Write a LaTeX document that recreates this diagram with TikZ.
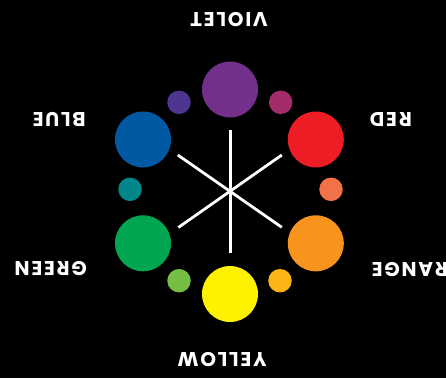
\documentclass[tikz,border=0pt]{standalone}
\usepackage{fontspec}
\newfontfamily\labfont{Poppins}[LetterSpace=9]
\definecolor{cviolet}{HTML}{722F8B}
\definecolor{cred}{HTML}{EE1D25}
\definecolor{corange}{HTML}{F7941E}
\definecolor{cyellow}{HTML}{FFF200}
\definecolor{cgreen}{HTML}{00A651}
\definecolor{cblue}{HTML}{0059A2}
\definecolor{cindigo}{HTML}{4E3592}
\definecolor{cmagenta}{HTML}{A42C6B}
\definecolor{credorange}{HTML}{F37146}
\definecolor{cyelloworange}{HTML}{FDB515}
\definecolor{cyellowgreen}{HTML}{75BD43}
\definecolor{cteal}{HTML}{00878A}
\tikzset{
  big/.style={circle,inner sep=0pt,minimum size=56pt},
  small/.style={circle,inner sep=0pt,minimum size=23.5pt},
  lab/.style={text=white,rotate=180,inner sep=0pt,font=\labfont\bfseries\fontsize{20}{20}\selectfont},
  spoke/.style={draw=white,line width=2.8pt}
}
\begin{document}
\begin{tikzpicture}[x=1pt,y=-1pt]
\fill[black] (0,0) rectangle (446,378);
\useasboundingbox (0,0) rectangle (446,378);
% big circles
\node[big,fill=cviolet] (violet) at (230,89.5) {};
\node[big,fill=cred] (red) at (315.8,139.5) {};
\node[big,fill=corange] (orange) at (315.8,243.3) {};
\node[big,fill=cyellow] (yellow) at (230,294) {};
\node[big,fill=cgreen] (green) at (143,243.3) {};
\node[big,fill=cblue] (blue) at (143,139.5) {};
% small circles
\node[small,fill=cmagenta] (magenta) at (280.7,102.3) {};
\node[small,fill=credorange] (redorange) at (331,189.3) {};
\node[small,fill=cyelloworange] (yelloworange) at (280,280.7) {};
\node[small,fill=cyellowgreen] (yellowgreen) at (179,280.7) {};
\node[small,fill=cteal] (teal) at (130,189.3) {};
\node[small,fill=cindigo] (indigo) at (179,102.3) {};
% spokes
\coordinate (c) at (230.3,191);
\coordinate (st) at (230.3,130);
\coordinate (sb) at (230.3,253);
\coordinate (sul) at (177.8,155);
\coordinate (slr) at (281.8,227.3);
\coordinate (sur) at (281.8,155);
\coordinate (sll) at (178.3,227.5);
\draw[spoke] (st) -- (sb);
\draw[spoke] (sul) -- (slr);
\draw[spoke] (sur) -- (sll);
% labels
\node[lab] (lviolet) at (229,19.5) {VIOLET};
\node[lab] (lred) at (390.8,119.7) {RED};
\node[lab,anchor=east] (lorange) at (371.7,269.7) {ORANGE};
\node[lab] (lyellow) at (222,359.7) {YELLOW};
\node[lab] (lgreen) at (50.7,269) {GREEN};
\node[lab] (lblue) at (59.2,119.7) {BLUE};
\end{tikzpicture}
\end{document}
